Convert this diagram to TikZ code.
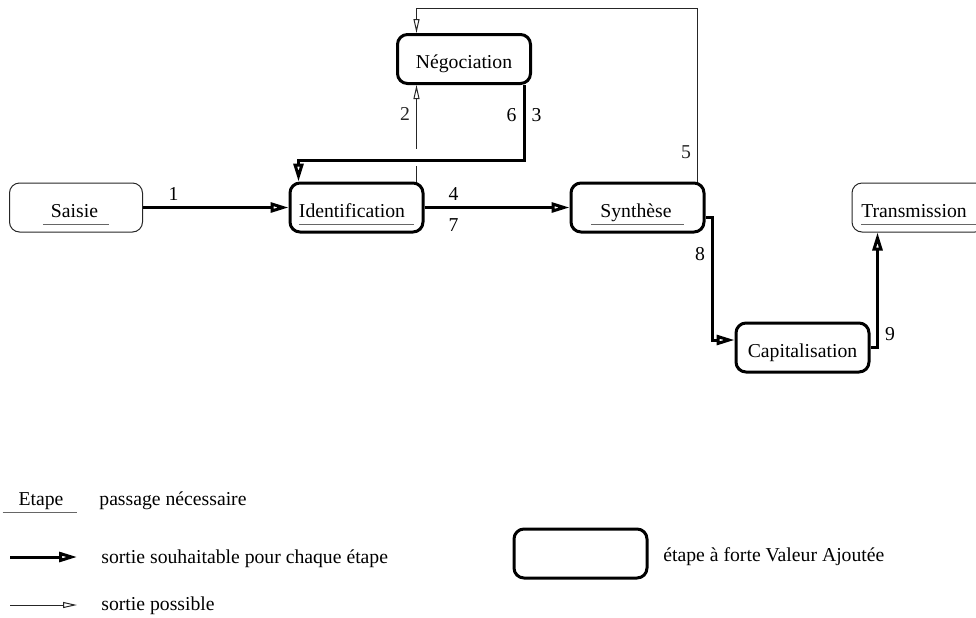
\documentclass[tikz,border=0pt]{standalone}
\usepackage{fontspec}
\setmainfont{Liberation Serif}
\usetikzlibrary{arrows.meta}

% texte souligne : marge gauche, texte, marge droite
\newcommand{\souligne}[3][0pt]{{\color{black!60}\underline{\hspace{#1}{\color{black}#2}\rule[-2.3pt]{0pt}{0pt}\hspace{#3}}}}

\tikzset{
  boite/.style={rectangle, rounded corners=5pt, draw=black!85, line width=0.5pt,
    minimum width=66.5pt, minimum height=24.5pt, inner sep=0pt,
    text height=9.5pt, text depth=0pt},
  forte/.style={boite, draw=black, line width=1.5pt},
  souhait/.style={line width=1.5pt, -{Triangle[open,length=9pt,width=5pt]}},
  possible/.style={line width=0.5pt, black!85, -{Triangle[open,length=7pt,width=3pt]}},
  num/.style={inner sep=3pt},
  legende/.style={inner sep=0pt, anchor=base west}
}

\begin{document}
\begin{tikzpicture}[x=0.5pt, y=-0.5pt, font=\fontsize{9.85}{11.8}\selectfont]
\useasboundingbox (0,0) rectangle (976,617);

% etapes
\node[boite] (sai) at (76,207.5) {\souligne[4pt]{Saisie}{5.5pt}};
\node[forte] (ide) at (356.5,207.5) {\souligne{Identification}{4.5pt}};
\node[forte] (neg) at (464,59) {Négociation};
\node[forte] (syn) at (637.5,207.5) {\souligne[4.5pt]{Synthèse}{6pt}};
\node[boite] (tra) at (918.5,207.5) {\souligne{Transmission}{4.5pt}};
\node[forte] (cap) at (802.5,347.5) {Capitalisation};

% sorties possibles
\coordinate (d2) at ([xshift=-4pt]ide.north east);
\draw[possible] (d2) -- ++(0,-16) ++(0,-17)
   -- (d2 |- neg.south) node[num,pos=0.55,left] {2};
\draw[possible] ([xshift=-4pt]syn.north east) -- ++(0,-173) node[num,pos=0.17,left] {5}
   -| (d2 |- neg.north);

% sorties souhaitables
\draw[souhait] (sai) -- (ide) node[num,pos=0.21,above] {1};
\draw[souhait] ([xshift=-4pt]neg.south east) -- ++(0,75)
   node[num,pos=0.4,left] {6} node[num,pos=0.4,right] {3}
   -| ([xshift=5pt]ide.north west);
\draw[souhait] (ide) -- (syn) node[num,pos=0.2,above] {4}
   node[num,pos=0.2,below=2pt] {7};
\draw[souhait] ([yshift=-4.75pt]syn.east) -- ++(7,0) |- ([yshift=3.75pt]cap.west)
   node[num,pos=0.15,left] {8};
\draw[souhait] (cap.east) -| ([xshift=13pt]tra.south west) node[num,pos=0.56,right] {9};

% legende
\node[anchor=base, inner sep=0pt] (leg0) at (40,505) {\souligne[8pt]{Etape}{7pt}};
\node[legende] (leg1) at (99,505) {passage nécessaire};
\coordinate (s0) at (10,557);
\coordinate (s1) at (77,557);
\draw[souhait] (s0) -- (s1);
\node[legende] (leg2) at (101,563) {sortie souhaitable pour chaque étape};
\coordinate (p0) at (10,605);
\coordinate (p1) at (77,605);
\draw[possible] (p0) -- (p1);
\node[legende] (leg3) at (101,610) {sortie possible};
\node[forte] (leg4) at (580.5,553.5) {};
\node[legende] (leg5) at (663,561) {étape à forte Valeur Ajoutée};
\end{tikzpicture}
\end{document}
